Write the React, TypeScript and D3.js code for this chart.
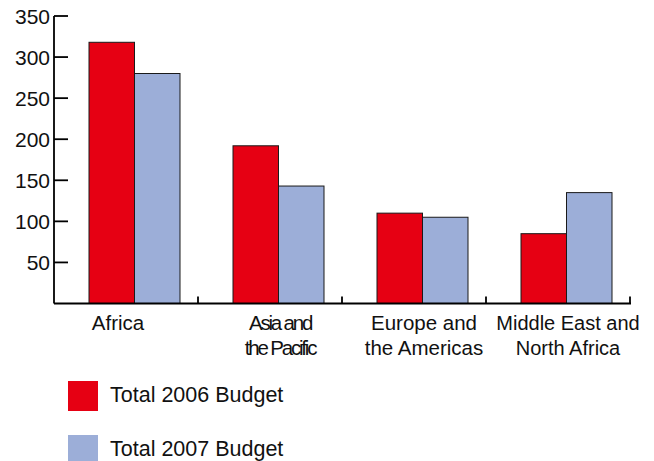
import * as React from 'react';
import { scaleBand, scaleLinear } from 'd3';

// budget per region, reading off the bars
const regions = ['Africa', 'Asia and the Pacific', 'Europe and the Americas', 'Middle East and North Africa'];
const regionLines = [['Africa'], ['Asia and', 'the Pacific'], ['Europe and', 'the Americas'], ['Middle East and', 'North Africa']];
const budget2006 = [318, 192, 110, 85];
const budget2007 = [280, 143, 105, 135];
const seriesNames = ['Total 2006 Budget', 'Total 2007 Budget'];
const seriesColors = ['#e60013', '#9caed8'];
const yTicks = [50, 100, 150, 200, 250, 300, 350];

const W = 654;
const H = 461;

const App = () => {
    const left = 54, right = 630, top = 16, bottom = 303.5;

    const x = scaleBand<string>().domain(regions).range([left, right]).padding(0);
    const inner = scaleBand<string>().domain(seriesNames).range([35, 126]).padding(0);
    const y = scaleLinear().domain([0, 350]).range([bottom, top]);

    const series = [budget2006, budget2007];
    const font = '"Liberation Sans", Arial, sans-serif';
    const labelX = (r: string, i: number) => x(r)! + (i === 0 ? 64 : 82);

    return (
        <svg width={W} height={H} style={{ position: 'absolute', left: 0, top: 0, background: 'white' }} fontFamily={font}>
            {/* bars */}
            {regions.map((r, i) => (
                <g key={r}>
                    {series.map((vals, s) => (
                        <rect key={s}
                            x={x(r)! + inner(seriesNames[s])!}
                            y={y(vals[i])}
                            width={inner.bandwidth()}
                            height={bottom - y(vals[i])}
                            fill={seriesColors[s]}
                            stroke="#1a1a1a"
                            strokeWidth={1} />
                    ))}
                </g>
            ))}

            {/* y axis */}
            <line x1={left} x2={left} y1={top} y2={bottom} stroke="black" strokeWidth={1.8} />
            {yTicks.map(t => (
                <g key={t}>
                    <line x1={left} x2={left + 14} y1={y(t)} y2={y(t)} stroke="black" strokeWidth={1.8} />
                    <text x={left - 4} y={y(t) + 7.5} textAnchor="end" fontSize={21} fill="#111">{t}</text>
                </g>
            ))}

            {/* x axis */}
            <line x1={left} x2={right + 1} y1={bottom} y2={bottom} stroke="black" strokeWidth={2} />
            {regions.map(r => (
                <line key={r} x1={x(r)! + x.bandwidth()} x2={x(r)! + x.bandwidth()} y1={bottom} y2={bottom - 7} stroke="black" strokeWidth={1.8} />
            ))}
            {regions.map((r, i) => (
                <text key={r} textAnchor="middle" fontSize={i === 3 ? 20 : 20.5} fill="#111"
                    letterSpacing={i === 1 ? -2.2 : 0}>
                    {regionLines[i].map((ln, k) => (
                        <tspan key={k} x={labelX(r, i)} y={330 + k * 25}>{ln}</tspan>
                    ))}
                </text>
            ))}

            {/* legend */}
            {seriesNames.map((n, s) => (
                <g key={n} transform={`translate(68, ${381 + s * 54})`}>
                    <rect width={30} height={30} fill={seriesColors[s]} />
                    <text x={42} y={21} fontSize={21.5} fill="#111">{n}</text>
                </g>
            ))}
        </svg>
    );
};

export default App;
